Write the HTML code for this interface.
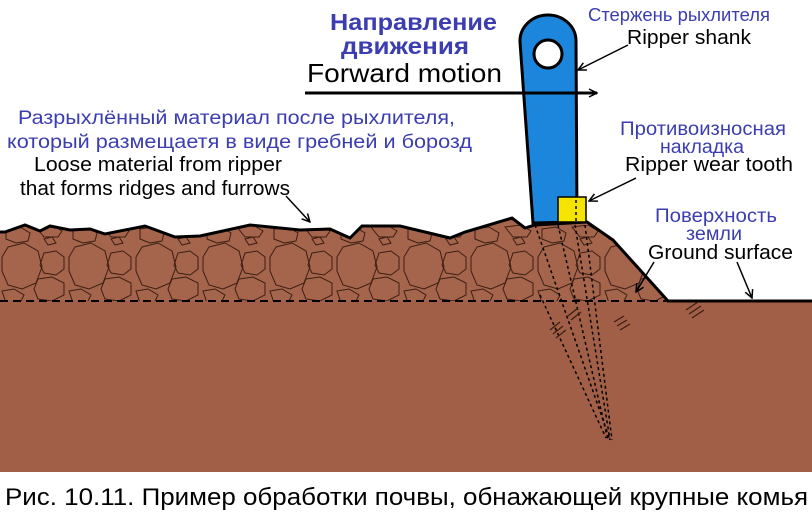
<!DOCTYPE html>
<html><head><meta charset="utf-8"><style>
html,body{margin:0;padding:0;background:#fff;width:812px;height:512px;overflow:hidden}
svg{display:block}
text{font-family:"Liberation Sans","Noto Sans CJK SC",sans-serif}
</style></head><body>
<svg width="812" height="512" viewBox="0 0 812 512" xmlns="http://www.w3.org/2000/svg">
<defs>
<pattern id="rocks" x="0" y="225" width="67" height="80" patternUnits="userSpaceOnUse">
<g fill="none" stroke="#3a1e12" stroke-width="1">
<polygon points="8,22 24,18 38,26 42,42 36,58 22,64 8,60 2,46 2,32"/>
<polygon points="44,28 56,26 64,32 64,44 56,50 44,48 40,40"/>
<polygon points="38,54 52,52 64,58 64,70 52,76 38,74 34,64"/>
<polygon points="44,14 52,12 56,18 48,20"/>
<polygon points="6,4 20,2 30,8 28,16 16,18 6,14"/>
<polygon points="36,2 52,0 62,6 58,12 44,12"/>
<polygon points="2,66 14,64 24,70 20,78 6,78"/>
</g>
</pattern>
<marker id="ah" markerWidth="10" markerHeight="10" refX="9" refY="5" orient="auto" markerUnits="userSpaceOnUse"><path d="M1,1 L9,5 L1,9" fill="none" stroke="#000" stroke-width="1.5"/></marker>
</defs>
<rect x="0" y="300" width="812" height="172" fill="#a15f48"/>
<path d="M0,232 L5,232 L25,225 L40,231 L50,226 L70,230 L90,229 L105,234 L145,226 L175,237 L200,236 L250,225 L300,230 L330,229 L350,238 L362,226 L400,226 L450,238 L465,232 L512,218 L525,228 L535,225 L587,222 L613,240 L668,301 L0,301 Z" fill="#a5644c"/>
<path d="M0,232 L5,232 L25,225 L40,231 L50,226 L70,230 L90,229 L105,234 L145,226 L175,237 L200,236 L250,225 L300,230 L330,229 L350,238 L362,226 L400,226 L450,238 L465,232 L512,218 L525,228 L535,225 L587,222 L613,240 L668,301 L0,301 Z" fill="url(#rocks)"/>
<path d="M0,232 L5,232 L25,225 L40,231 L50,226 L70,230 L90,229 L105,234 L145,226 L175,237 L200,236 L250,225 L300,230 L330,229 L350,238 L362,226 L400,226 L450,238 L465,232 L512,218 L525,228 L535,225 L587,222 L613,240 L668,301 L812,301" fill="none" stroke="#000" stroke-width="3"/>
<line x1="0" y1="301" x2="668" y2="301" stroke="#000" stroke-width="2" stroke-dasharray="8,5"/>
<g stroke="#000" stroke-width="1.5" stroke-dasharray="3,3" fill="none">
<line x1="535" y1="225" x2="610" y2="440"/>
<line x1="558" y1="225" x2="608" y2="440"/>
<line x1="575" y1="225" x2="610" y2="440"/>
<line x1="585" y1="225" x2="612" y2="440"/>
<line x1="540" y1="295" x2="606" y2="438"/>
</g>
<g stroke="#3a1e12" stroke-width="1.2">
<line x1="550" y1="330" x2="560" y2="322"/><line x1="553" y1="334" x2="563" y2="326"/><line x1="556" y1="338" x2="566" y2="330"/>
<line x1="568" y1="316" x2="578" y2="308"/><line x1="571" y1="320" x2="581" y2="312"/>
<line x1="614" y1="322" x2="624" y2="316"/><line x1="617" y1="326" x2="627" y2="320"/><line x1="620" y1="330" x2="630" y2="324"/>
<line x1="686" y1="310" x2="698" y2="302"/><line x1="689" y1="314" x2="701" y2="306"/><line x1="692" y1="318" x2="704" y2="310"/>
</g>
<path d="M533,223 L520,42 A28,26 0 0 1 576,40 L577,222 Z" fill="#1b86dc" stroke="#000" stroke-width="3"/>
<circle cx="548" cy="54" r="14" fill="#fff" stroke="#000" stroke-width="3"/>
<rect x="558" y="197" width="28" height="25" fill="#f5e400" stroke="#000" stroke-width="1.5"/>
<line x1="576" y1="200" x2="576" y2="222" stroke="#000" stroke-width="1.5" stroke-dasharray="3,3"/>
<line x1="305" y1="93" x2="597" y2="93" stroke="#000" stroke-width="3" marker-end="url(#ah)"/>
<g stroke="#000" stroke-width="1.5" fill="none" marker-end="url(#ah)">
<line x1="628" y1="45" x2="578" y2="70"/>
<line x1="636" y1="178" x2="589" y2="201"/>
<line x1="286" y1="196" x2="310" y2="222"/>
<line x1="654" y1="262" x2="636" y2="292"/>
<line x1="737" y1="262" x2="752" y2="298"/>
</g>
<g fill="#3b3db0" font-size="19" lengthAdjust="spacingAndGlyphs">
<text x="330" y="30" font-size="23" font-weight="bold" textLength="167" lengthAdjust="spacingAndGlyphs">Направление</text>
<text x="341" y="54" font-size="23" font-weight="bold" textLength="128" lengthAdjust="spacingAndGlyphs">движения</text>
<text x="18" y="124" textLength="437" lengthAdjust="spacingAndGlyphs">Разрыхлённый материал после рыхлителя,</text>
<text x="7" y="148" textLength="465" lengthAdjust="spacingAndGlyphs">который размещаетя в виде гребней и борозд</text>
<text x="588" y="21" font-size="18" textLength="182" lengthAdjust="spacingAndGlyphs">Стержень рыхлителя</text>
<text x="620" y="135" textLength="166" lengthAdjust="spacingAndGlyphs">Противоизносная</text>
<text x="660" y="153" textLength="84" lengthAdjust="spacingAndGlyphs">накладка</text>
<text x="655" y="222" textLength="122" lengthAdjust="spacingAndGlyphs">Поверхность</text>
<text x="686" y="240" textLength="56" lengthAdjust="spacingAndGlyphs">земли</text>
</g>
<g fill="#000">
<text x="307" y="82" font-size="26" textLength="195" lengthAdjust="spacingAndGlyphs">Forward motion</text>
<text x="34" y="171" font-size="20" textLength="248" lengthAdjust="spacingAndGlyphs">Loose material from ripper</text>
<text x="20" y="195" font-size="20" textLength="270" lengthAdjust="spacingAndGlyphs">that forms ridges and furrows</text>
<text x="627" y="44" font-size="20" textLength="124" lengthAdjust="spacingAndGlyphs">Ripper shank</text>
<text x="625" y="171" font-size="20" textLength="168" lengthAdjust="spacingAndGlyphs">Ripper wear tooth</text>
<text x="648" y="259" font-size="20" textLength="145" lengthAdjust="spacingAndGlyphs">Ground surface</text>
<text x="5" y="505" font-size="24" textLength="803" lengthAdjust="spacingAndGlyphs">Рис. 10.11. Пример обработки почвы, обнажающей крупные комья</text>
</g>
</svg>
</body></html>
